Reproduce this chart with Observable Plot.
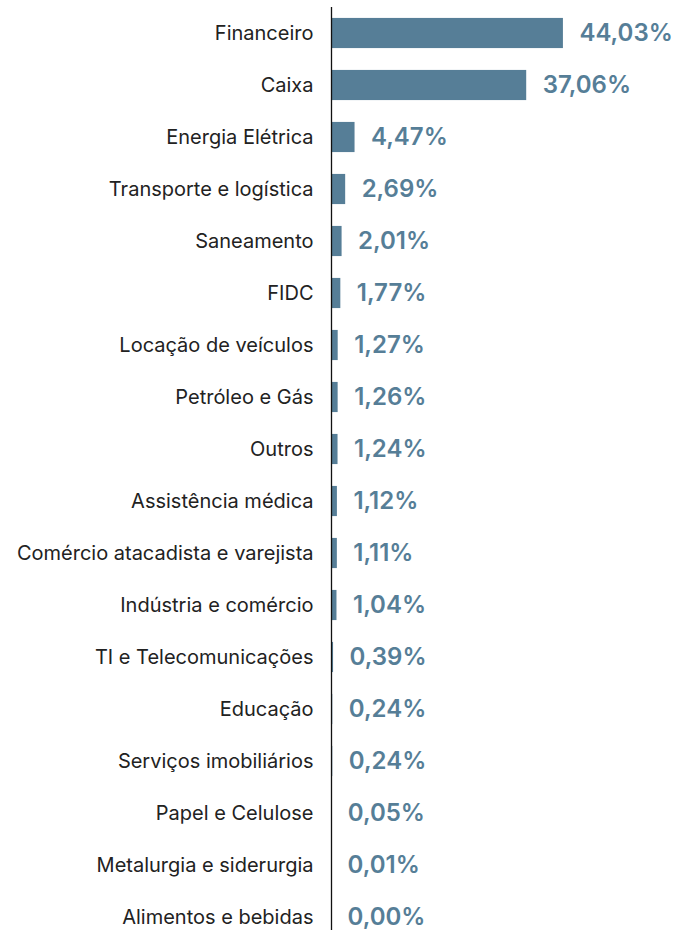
<!DOCTYPE html>
<html><head><meta charset="utf-8">
<script src="https://cdn.jsdelivr.net/npm/d3@7"></script>
<script src="https://cdn.jsdelivr.net/npm/@observablehq/plot@0.6"></script>
<style>
html,body{margin:0;padding:0;background:#fff;overflow:hidden;}
#chart svg{display:block;}
</style>
</head><body><div id="chart"></div>
<script>
const categories = ["Financeiro","Caixa","Energia Elétrica","Transporte e logística","Saneamento","FIDC","Locação de veículos","Petróleo e Gás","Outros","Assistência médica","Comércio atacadista e varejista","Indústria e comércio","TI e Telecomunicações","Educação","Serviços imobiliários","Papel e Celulose","Metalurgia e siderurgia","Alimentos e bebidas"];
const values = [44.03,37.06,4.47,2.69,2.01,1.77,1.27,1.26,1.24,1.12,1.11,1.04,0.39,0.24,0.24,0.05,0.01,0.00];
const data = categories.map((c,i)=>({cat:c, v:values[i]}));
const color = "#567e97";
const fmt = v => v.toFixed(2).replace(".", ",") + "%";
const chart = Plot.plot({
  width: 676, height: 930,
  marginLeft: 331, marginRight: 0, marginTop: 7, marginBottom: -13,
  style: {fontFamily: "Inter, sans-serif", background: "#fff", overflow: "hidden"},
  x: {domain: [0, 65.5], axis: null},
  y: {domain: categories, paddingInner: 0.42, paddingOuter: 0.21, round: false, label: null, axis: null},
  marks: [
    Plot.barX(data, {y: "cat", x: "v", fill: color}),
    Plot.text(data, {y: "cat", x: "v", text: d => fmt(d.v), textAnchor: "start", dx: 16, fill: color, fontSize: 24, fontWeight: 600}),
    Plot.ruleX([0], {stroke: "#111", strokeWidth: 1.3}),
    Plot.axisY({tickSize: 0, tickPadding: 18, fontSize: 20, label: null, fill: "#222"})
  ]
});
document.getElementById("chart").append(chart);
</script>
</body></html>
